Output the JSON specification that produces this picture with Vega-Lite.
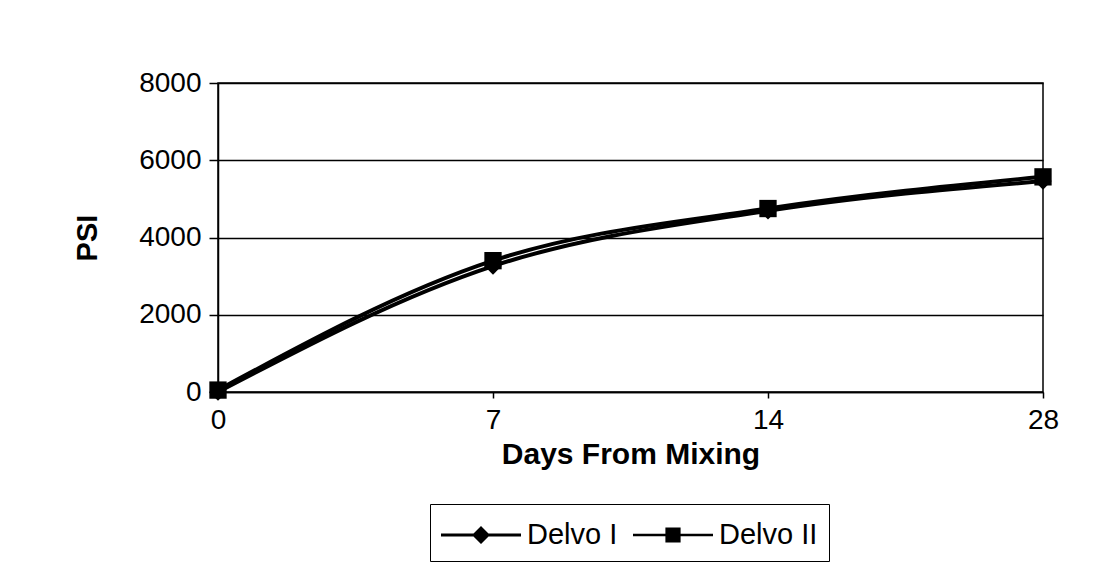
{
  "$schema": "https://vega.github.io/schema/vega-lite/v6.json",
  "width": 825,
  "height": 309,
  "autosize": "none",
  "padding": {"left": 218, "top": 83, "right": 56, "bottom": 181},
  "background": "white",
  "config": {
    "font": "Liberation Sans",
    "view": {"stroke": "black", "strokeWidth": 1.5},
    "axis": {"domainColor": "black", "domainWidth": 1.5, "tickColor": "black", "tickWidth": 1.5, "labelColor": "black", "titleColor": "black", "labelFont": "Liberation Sans", "titleFont": "Liberation Sans"},
    "legend": {"labelFont": "Liberation Sans"}
  },
  "data": {
    "values": [
      {"day": 0, "series": "Delvo I", "psi": 0},
      {"day": 7, "series": "Delvo I", "psi": 3260},
      {"day": 14, "series": "Delvo I", "psi": 4690},
      {"day": 28, "series": "Delvo I", "psi": 5460},
      {"day": 0, "series": "Delvo II", "psi": 50},
      {"day": 7, "series": "Delvo II", "psi": 3400},
      {"day": 14, "series": "Delvo II", "psi": 4750},
      {"day": 28, "series": "Delvo II", "psi": 5570}
    ]
  },
  "encoding": {
    "x": {
      "field": "day",
      "type": "ordinal",
      "sort": [0, 7, 14, 28],
      "scale": {"type": "point", "padding": 0},
      "axis": {"labelAngle": 0, "labelFontSize": 28, "labelPadding": 8, "tickSize": 6, "grid": false, "title": "Days From Mixing", "titleFontSize": 30, "titleFontWeight": "bold", "titlePadding": 5}
    },
    "y": {
      "field": "psi",
      "type": "quantitative",
      "scale": {"domain": [0, 8000]},
      "axis": {"values": [0, 2000, 4000, 6000, 8000], "format": "d", "grid": true, "gridColor": "black", "gridWidth": 1.5, "labelFontSize": 28, "labelPadding": 8, "tickSize": 9, "title": "PSI", "titleFontSize": 29, "titleFontWeight": "bold", "titlePadding": 36}
    }
  },
  "layer": [
    {
      "mark": {"type": "line", "interpolate": "monotone", "color": "black", "strokeWidth": 4},
      "encoding": {"detail": {"field": "series"}}
    },
    {
      "mark": {"type": "point", "filled": true, "color": "black", "size": 300, "opacity": 1},
      "encoding": {
        "shape": {
          "field": "series",
          "type": "nominal",
          "scale": {"domain": ["Delvo I", "Delvo II"], "range": ["diamond", "square"]},
          "legend": null
        }
      }
    },
    {
      "mark": {"type": "point", "filled": true, "color": "black", "size": 0, "opacity": 0},
      "encoding": {
        "shape": {
          "field": "series",
          "type": "nominal",
          "scale": {"domain": ["Delvo I", "Delvo II"], "range": ["M-1,-0.075H3V0.075H-1ZM1,-0.45L1.45,0L1,0.45L0.55,0Z", "M-1,-0.06H3V0.06H-1ZM0.62,-0.38H1.38V0.38H0.62Z"]},
          "legend": {
            "title": null,
            "orient": "none",
            "legendX": 212,
            "legendY": 421,
            "direction": "horizontal",
            "padding": 11,
            "strokeColor": "black",
            "labelFontSize": 29,
            "labelColor": "black",
            "symbolSize": 1600,
            "symbolOpacity": 1,
            "labelOffset": 46,
            "columnPadding": 15,
            "symbolFillColor": "black",
            "symbolStrokeColor": "black",
            "symbolStrokeWidth": 0,
            "encode": {
              "symbols": {
                "update": {
                  "fill": {"value": "black"},
                  "opacity": {"value": 1}
                }
              }
            }
          }
        }
      }
    }
  ],
  "resolve": {"scale": {"shape": "independent"}}
}
